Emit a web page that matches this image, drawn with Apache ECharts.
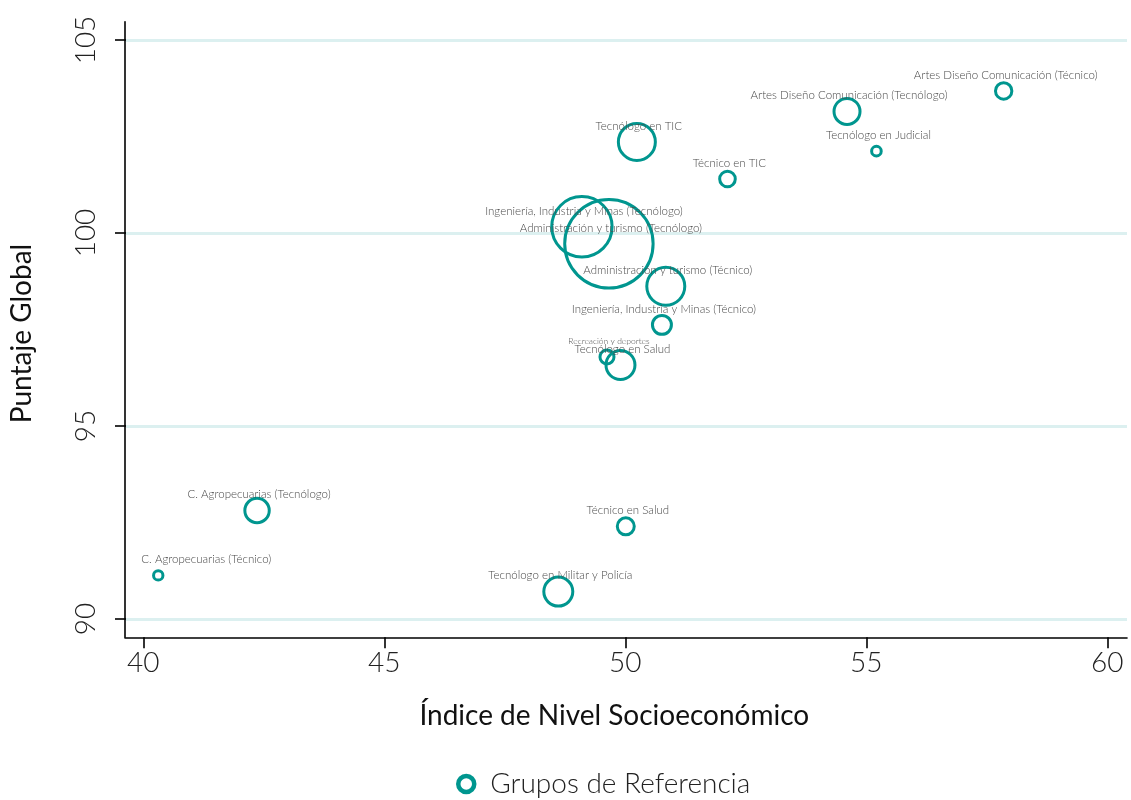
<!DOCTYPE html>
<html><head><meta charset="utf-8">
<script src="https://cdn.jsdelivr.net/npm/echarts@6/dist/echarts.min.js"></script>
<style>html,body{margin:0;padding:0;background:#fff}#c{width:1131px;height:800px}</style>
</head><body><div id="c"></div>
<script>
// ---- data ----
const groups = [
  'Artes Diseño Comunicación (Técnico)',
  'Artes Diseño Comunicación (Tecnólogo)',
  'Tecnólogo en Judicial',
  'Tecnólogo en TIC',
  'Técnico en TIC',
  'Ingeniería, Industria y Minas (Tecnólogo)',
  'Administración y turismo (Tecnólogo)',
  'Administración y turismo (Técnico)',
  'Ingeniería, Industria y Minas (Técnico)',
  'Recreación y deportes',
  'Tecnólogo en Salud',
  'C. Agropecuarias (Tecnólogo)',
  'Técnico en Salud',
  'C. Agropecuarias (Técnico)',
  'Tecnólogo en Militar y Policía'
];
const nse = [57.85, 54.60, 55.21, 50.24, 52.12, 49.10, 49.66, 50.84, 50.76, 49.62, 49.90, 42.36, 50.01, 40.31, 48.61];
const puntaje = [103.68, 103.15, 102.12, 102.36, 101.40, 100.16, 99.72, 98.62, 97.62, 96.79, 96.58, 92.81, 92.40, 91.13, 90.71];
const groupSize = [67, 169, 23, 342, 61, 912, 1954, 361, 90, 49, 210, 149, 72, 22, 210];
const xTicks = [40, 45, 50, 55, 60];
const yTicks = [90, 95, 100, 105];
const seriesName = 'Grupos de Referencia';
const xTitle = 'Índice de Nivel Socioeconómico';
const yTitle = 'Puntaje Global';

// ---- layout ----
const W = 1131, H = 800;
const axL = 125, axR = 1127, axTop = 21.7, axBot = 637.3;   // axis lines
const tx0 = 143.3, tx1 = 1107.3;  // pixel of first/last x tick
const ty0 = 619, ty1 = 40;        // pixel of first/last y tick
const xLo = xTicks[0], xHi = xTicks[xTicks.length-1];
const yLo = yTicks[0], yHi = yTicks[yTicks.length-1];
const pxX = (tx1 - tx0) / (xHi - xLo);
const pxY = (ty0 - ty1) / (yHi - yLo);
const xMin = xLo - (tx0 - axL) / pxX, xMax = xHi + (axR - tx1) / pxX;
const yMin = yLo - (axBot - ty0) / pxY, yMax = yHi + (ty1 - axTop) / pxY;

const TEAL = '#00968f';
const FONT = 'Lato';

const data = groups.map((g, i) => {
  const item = { name: g, value: [nse[i], puntaje[i], groupSize[i]] };
  if (g === 'Recreación y deportes') item.label = { fontSize: 8.5 };
  if (g === 'C. Agropecuarias (Técnico)') item.label = { offset: [48, -16] };
  return item;
});

const chart = echarts.init(document.getElementById('c'), null, { renderer: 'canvas' });
chart.setOption({
  animation: false,
  backgroundColor: '#fff',
  textStyle: { fontFamily: FONT },
  grid: [
    { left: axL, right: W - axR, top: axTop, bottom: H - axBot },   // data
    { left: axL, right: W - axR, top: ty1, bottom: H - ty0 },       // y ticks
    { left: tx0, right: W - tx1, top: axTop, bottom: H - axBot }    // x ticks
  ],
  xAxis: [
    { gridIndex: 0, type: 'value', min: xMin, max: xMax,
      axisLine: { show: true, lineStyle: { color: '#000', width: 1.6 } },
      axisTick: { show: false }, axisLabel: { show: false }, splitLine: { show: false } },
    { gridIndex: 1, type: 'value', min: xLo, max: xHi, show: false },
    { gridIndex: 2, type: 'value', min: xLo, max: xHi, interval: 5,
      axisLine: { show: false },
      axisTick: { show: true, length: 11, lineStyle: { color: '#000', width: 1.6 } },
      axisLabel: { show: true, fontSize: 28, fontWeight: 300, color: '#222', margin: 12, fontFamily: FONT },
      splitLine: { show: false },
      name: xTitle, nameLocation: 'middle', nameGap: 65,
      nameTextStyle: { fontSize: 28, color: '#111', fontFamily: FONT, fontWeight: 400, padding: [0, 22, 0, 0] } }
  ],
  yAxis: [
    { gridIndex: 0, type: 'value', min: yMin, max: yMax,
      axisLine: { show: true, lineStyle: { color: '#000', width: 1.6 } },
      axisTick: { show: false }, axisLabel: { show: false }, splitLine: { show: false } },
    { gridIndex: 1, type: 'value', min: yLo, max: yHi, interval: 5,
      axisLine: { show: false },
      axisTick: { show: true, length: 11, lineStyle: { color: '#000', width: 1.6 } },
      axisLabel: { show: true, rotate: 90, fontSize: 28, fontWeight: 300, color: '#222', margin: 26, fontFamily: FONT },
      splitLine: { show: true, lineStyle: { color: '#dcf0f0', width: 3 } },
      name: yTitle, nameLocation: 'middle', nameGap: 90, nameRotate: 90,
      nameTextStyle: { fontSize: 28, color: '#111', fontFamily: FONT, fontWeight: 400, padding: [0, 8, 0, 0] } },
    { gridIndex: 2, type: 'value', min: yLo, max: yHi, show: false }
  ],
  legend: {
    show: true, data: [seriesName], left: 451, top: 765,
    itemWidth: 16, itemHeight: 16, itemGap: 10,
    itemStyle: { color: '#fff', borderColor: TEAL, borderWidth: 4.5 },
    textStyle: { fontSize: 28, fontWeight: 300, color: '#222', fontFamily: FONT, padding: [0, 0, 0, 11] }
  },
  series: [{
    name: seriesName, type: 'scatter', xAxisIndex: 0, yAxisIndex: 0,
    symbol: 'circle',
    symbolSize: v => 2 * Math.sqrt(v[2]),
    itemStyle: { color: 'rgba(255,255,255,0)', borderColor: TEAL, borderWidth: 3, opacity: 1 },
    label: { show: true, position: 'inside', offset: [2, -16], formatter: p => p.name,
      fontSize: 11.5, fontWeight: 300, color: '#4a4a4a', fontFamily: FONT },
    emphasis: { disabled: true },
    data: data,
    z: 3
  }]
});
</script>
</body></html>
